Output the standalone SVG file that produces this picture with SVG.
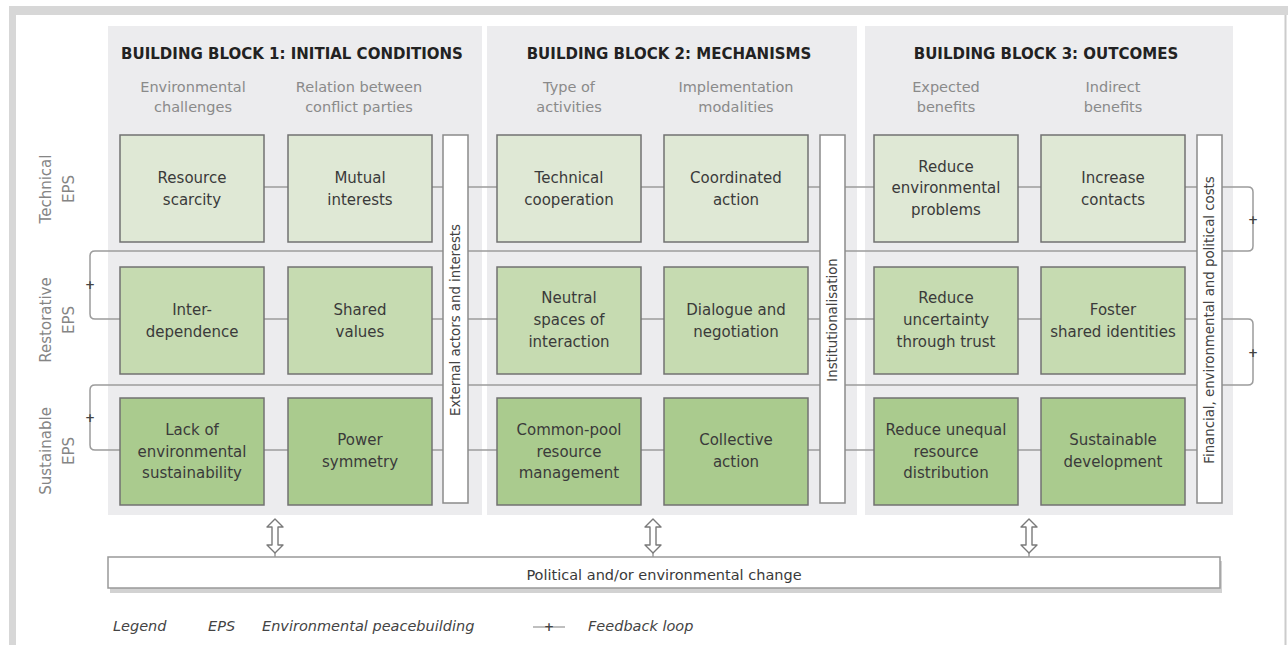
<svg xmlns="http://www.w3.org/2000/svg" width="1288" height="645" viewBox="0 0 1288 645">
  <style>
    .frame { fill: #d7d7d7; }
    .bg { fill: #ececee; }
    .box { stroke: #727272; stroke-width: 1.5; }
    .r1 { fill: #dfe8d5; }
    .r2 { fill: #c6dbb1; }
    .r3 { fill: #aacb8e; }
    .bar { fill: #ffffff; stroke: #8a8a8a; stroke-width: 1.5; }
    .conn { fill: none; stroke: #9c9c9c; stroke-width: 1.5; }
    .arrow { fill: #ffffff; stroke: #7a7a7a; stroke-width: 1.4; stroke-linejoin: round; }
    text { font-family: "DejaVu Sans", "Liberation Sans", sans-serif; }
    .title { font-size: 15px; font-weight: bold; fill: #222222; text-anchor: middle; }
    .sub { font-size: 14.5px; fill: #8a8a8a; text-anchor: middle; }
    .lbl { font-size: 15px; fill: #3a3a3a; text-anchor: middle; }
    .row { font-size: 15px; fill: #858585; text-anchor: middle; }
    .vbar { font-size: 13.3px; fill: #444444; text-anchor: middle; }
    .plus { font-size: 12px; font-weight: bold; fill: #444444; text-anchor: middle; }
    .legend { font-size: 14.5px; font-style: italic; fill: #444444; }
  </style>

  <!-- page frame -->
  <rect class="frame" x="10" y="6" width="1278" height="9"/>
  <rect class="frame" x="9" y="6" width="7" height="639"/>
  <line x1="1285.5" y1="15" x2="1285.5" y2="645" stroke="#cccccc" stroke-width="2"/>

  <!-- building block backgrounds -->
  <g id="block-backgrounds">
    <rect class="bg" x="108" y="26" width="374" height="489"/>
    <rect class="bg" x="487" y="26" width="370" height="489"/>
    <rect class="bg" x="865" y="26" width="368" height="489"/>
  </g>

  <!-- headings -->
  <g id="headings">
    <text class="title" x="292" y="59">BUILDING BLOCK 1: INITIAL CONDITIONS</text>
    <text class="title" x="669" y="59">BUILDING BLOCK 2: MECHANISMS</text>
    <text class="title" x="1046" y="59">BUILDING BLOCK 3: OUTCOMES</text>

    <text class="sub" x="193" y="92">Environmental</text>
    <text class="sub" x="193" y="112">challenges</text>
    <text class="sub" x="359" y="92">Relation between</text>
    <text class="sub" x="359" y="112">conflict parties</text>
    <text class="sub" x="569" y="92">Type of</text>
    <text class="sub" x="569" y="112">activities</text>
    <text class="sub" x="736" y="92">Implementation</text>
    <text class="sub" x="736" y="112">modalities</text>
    <text class="sub" x="946" y="92">Expected</text>
    <text class="sub" x="946" y="112">benefits</text>
    <text class="sub" x="1113" y="92">Indirect</text>
    <text class="sub" x="1113" y="112">benefits</text>
  </g>

  <!-- row labels -->
  <g id="row-labels">
    <g transform="translate(46,189) rotate(-90)">
      <text class="row" x="0" y="5">Technical</text>
      <text class="row" x="0" y="28">EPS</text>
    </g>
    <g transform="translate(46,320) rotate(-90)">
      <text class="row" x="0" y="5">Restorative</text>
      <text class="row" x="0" y="28">EPS</text>
    </g>
    <g transform="translate(46,451) rotate(-90)">
      <text class="row" x="0" y="5">Sustainable</text>
      <text class="row" x="0" y="28">EPS</text>
    </g>
  </g>

  <!-- connectors and feedback loops -->
  <g id="connectors">
    <!-- technical row feeding back into restorative row -->
    <path class="conn" d="M 190 187 H 1248 Q 1253 187 1253 192 V 246 Q 1253 251 1248 251 H 95 Q 90 251 90 256 V 314 Q 90 319 95 319 H 190"/>
    <!-- restorative row feeding back into sustainable row -->
    <path class="conn" d="M 190 319 H 1248 Q 1253 319 1253 324 V 380 Q 1253 385 1248 385 H 95 Q 90 385 90 390 V 445 Q 90 450 95 450 H 190"/>
    <!-- sustainable row -->
    <path class="conn" d="M 190 450 H 1210"/>
    <!-- links to the change box -->
    <line class="conn" x1="275" y1="553" x2="275" y2="557"/>
    <line class="conn" x1="653" y1="553" x2="653" y2="557"/>
    <line class="conn" x1="1029" y1="553" x2="1029" y2="557"/>
    <path class="arrow" d="M 275 519 L 283 527 L 278 527 L 278 545 L 283 545 L 275 553 L 267 545 L 272 545 L 272 527 L 267 527 Z"/>
    <path class="arrow" d="M 653 519 L 661 527 L 656 527 L 656 545 L 661 545 L 653 553 L 645 545 L 650 545 L 650 527 L 645 527 Z"/>
    <path class="arrow" d="M 1029 519 L 1037 527 L 1032 527 L 1032 545 L 1037 545 L 1029 553 L 1021 545 L 1026 545 L 1026 527 L 1021 527 Z"/>
    <!-- loop polarity marks -->
    <text class="plus" x="90" y="289">+</text>
    <text class="plus" x="90" y="422">+</text>
    <text class="plus" x="1253" y="224">+</text>
    <text class="plus" x="1253" y="357">+</text>
  </g>

  <!-- block 1: initial conditions -->
  <g id="n-resource-scarcity">
    <rect class="box r1" x="120" y="135" width="144" height="107"/>
    <text class="lbl" x="192" y="183">Resource</text>
    <text class="lbl" x="192" y="205">scarcity</text>
  </g>
  <g id="n-mutual-interests">
    <rect class="box r1" x="288" y="135" width="144" height="107"/>
    <text class="lbl" x="360" y="183">Mutual</text>
    <text class="lbl" x="360" y="205">interests</text>
  </g>
  <g id="n-interdependence">
    <rect class="box r2" x="120" y="267" width="144" height="107"/>
    <text class="lbl" x="192" y="315">Inter-</text>
    <text class="lbl" x="192" y="337">dependence</text>
  </g>
  <g id="n-shared-values">
    <rect class="box r2" x="288" y="267" width="144" height="107"/>
    <text class="lbl" x="360" y="315">Shared</text>
    <text class="lbl" x="360" y="337">values</text>
  </g>
  <g id="n-lack-sustainability">
    <rect class="box r3" x="120" y="398" width="144" height="107"/>
    <text class="lbl" x="192" y="435">Lack of</text>
    <text class="lbl" x="192" y="457">environmental</text>
    <text class="lbl" x="192" y="478">sustainability</text>
  </g>
  <g id="n-power-symmetry">
    <rect class="box r3" x="288" y="398" width="144" height="107"/>
    <text class="lbl" x="360" y="445">Power</text>
    <text class="lbl" x="360" y="467">symmetry</text>
  </g>
  <g id="n-external-actors">
    <rect class="bar" x="443" y="135" width="25" height="368"/>
    <text class="vbar" transform="translate(455.5,320) rotate(-90)" x="0" y="4.5">External actors and interests</text>
  </g>

  <!-- block 2: mechanisms -->
  <g id="n-technical-cooperation">
    <rect class="box r1" x="497" y="135" width="144" height="107"/>
    <text class="lbl" x="569" y="183">Technical</text>
    <text class="lbl" x="569" y="205">cooperation</text>
  </g>
  <g id="n-coordinated-action">
    <rect class="box r1" x="664" y="135" width="144" height="107"/>
    <text class="lbl" x="736" y="183">Coordinated</text>
    <text class="lbl" x="736" y="205">action</text>
  </g>
  <g id="n-neutral-spaces">
    <rect class="box r2" x="497" y="267" width="144" height="107"/>
    <text class="lbl" x="569" y="303">Neutral</text>
    <text class="lbl" x="569" y="325">spaces of</text>
    <text class="lbl" x="569" y="347">interaction</text>
  </g>
  <g id="n-dialogue">
    <rect class="box r2" x="664" y="267" width="144" height="107"/>
    <text class="lbl" x="736" y="315">Dialogue and</text>
    <text class="lbl" x="736" y="337">negotiation</text>
  </g>
  <g id="n-common-pool">
    <rect class="box r3" x="497" y="398" width="144" height="107"/>
    <text class="lbl" x="569" y="435">Common-pool</text>
    <text class="lbl" x="569" y="457">resource</text>
    <text class="lbl" x="569" y="478">management</text>
  </g>
  <g id="n-collective-action">
    <rect class="box r3" x="664" y="398" width="144" height="107"/>
    <text class="lbl" x="736" y="445">Collective</text>
    <text class="lbl" x="736" y="467">action</text>
  </g>
  <g id="n-institutionalisation">
    <rect class="bar" x="820" y="135" width="25" height="368"/>
    <text class="vbar" transform="translate(832.5,320) rotate(-90)" x="0" y="4.5">Institutionalisation</text>
  </g>

  <!-- block 3: outcomes -->
  <g id="n-reduce-env-problems">
    <rect class="box r1" x="874" y="135" width="144" height="107"/>
    <text class="lbl" x="946" y="172">Reduce</text>
    <text class="lbl" x="946" y="193">environmental</text>
    <text class="lbl" x="946" y="215">problems</text>
  </g>
  <g id="n-increase-contacts">
    <rect class="box r1" x="1041" y="135" width="144" height="107"/>
    <text class="lbl" x="1113" y="183">Increase</text>
    <text class="lbl" x="1113" y="205">contacts</text>
  </g>
  <g id="n-reduce-uncertainty">
    <rect class="box r2" x="874" y="267" width="144" height="107"/>
    <text class="lbl" x="946" y="303">Reduce</text>
    <text class="lbl" x="946" y="325">uncertainty</text>
    <text class="lbl" x="946" y="347">through trust</text>
  </g>
  <g id="n-foster-identities">
    <rect class="box r2" x="1041" y="267" width="144" height="107"/>
    <text class="lbl" x="1113" y="315">Foster</text>
    <text class="lbl" x="1113" y="337">shared identities</text>
  </g>
  <g id="n-reduce-unequal">
    <rect class="box r3" x="874" y="398" width="144" height="107"/>
    <text class="lbl" x="946" y="435">Reduce unequal</text>
    <text class="lbl" x="946" y="457">resource</text>
    <text class="lbl" x="946" y="478">distribution</text>
  </g>
  <g id="n-sustainable-development">
    <rect class="box r3" x="1041" y="398" width="144" height="107"/>
    <text class="lbl" x="1113" y="445">Sustainable</text>
    <text class="lbl" x="1113" y="467">development</text>
  </g>
  <g id="n-costs">
    <rect class="bar" x="1197" y="135" width="25" height="368"/>
    <text class="vbar" transform="translate(1209.5,320) rotate(-90)" x="0" y="4.5">Financial, environmental and political costs</text>
  </g>

  <!-- contextual change -->
  <g id="n-change">
    <rect x="110" y="561" width="1112" height="32" fill="#d2d2d2"/>
    <rect x="108" y="557" width="1112" height="31" fill="#ffffff" stroke="#999999" stroke-width="1.5"/>
    <text class="lbl" x="664" y="580" style="font-size:14.5px">Political and/or environmental change</text>
  </g>

  <!-- legend -->
  <g id="legend">
    <text class="legend" x="113" y="631">Legend</text>
    <text class="legend" x="208" y="631">EPS</text>
    <text class="legend" x="262" y="631">Environmental peacebuilding</text>
    <line x1="533" y1="627" x2="565" y2="627" stroke="#aaaaaa" stroke-width="1.5"/>
    <text class="plus" x="549" y="631">+</text>
    <text class="legend" x="588" y="631">Feedback loop</text>
  </g>
</svg>
